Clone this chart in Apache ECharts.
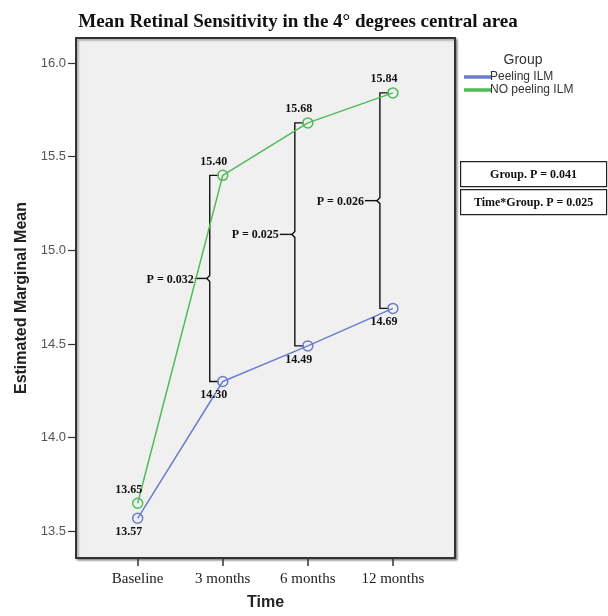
<!DOCTYPE html>
<html>
<head>
<meta charset="utf-8">
<script src="https://cdn.jsdelivr.net/npm/echarts@6/dist/echarts.min.js"></script>
<style>html,body{margin:0;padding:0;background:#fff}#c{width:608px;height:616px}</style>
</head>
<body>
<div id="c"></div>
<script>
const categories = ['Baseline', '3 months', '6 months', '12 months'];
const peeling = [13.57, 14.30, 14.49, 14.69];
const noPeeling = [13.65, 15.40, 15.68, 15.84];
const yTicks = [13.5, 14.0, 14.5, 15.0, 15.5, 16.0];
const pValues = ['P = 0.032', 'P = 0.025', 'P = 0.026'];
const bracketIdx = [1, 2, 3];
const statLines = ['Group. P = 0.041', 'Time*Group. P = 0.025'];

const BLUE = '#6b7dcf';
const GREEN = '#4fbc57';
const SERIF = '"Liberation Serif", "Times New Roman", serif';
const SANS = '"Liberation Sans", Arial, sans-serif';

const chart = echarts.init(document.getElementById('c'), null, {renderer: 'canvas'});

const bracketData = bracketIdx.map(i => [i, noPeeling[i], peeling[i]]);

function renderBracket(params, api) {
  const x = api.value(0), hi = api.value(1), lo = api.value(2);
  const pt = api.coord([x, hi]);
  const pb = api.coord([x, lo]);
  const bx = pt[0] - 13;
  const ym = (pt[1] + pb[1]) / 2;
  return {
    type: 'group',
    children: [
      {type: 'polyline', shape: {points: [[pt[0] - 4, pt[1]], [bx, pt[1]], [bx, ym - 3], [bx - 3, ym], [bx, ym + 3], [bx, pb[1]], [pb[0] - 4, pb[1]]]},
       style: {stroke: '#111', fill: null, lineWidth: 1.4}},
      {type: 'line', shape: {x1: bx - 3, y1: ym, x2: bx - 15, y2: ym}, style: {stroke: '#111', lineWidth: 1.4}},
      {type: 'text', x: bx - 16, y: ym + 1, style: {text: pValues[params.dataIndex], align: 'right', verticalAlign: 'middle',
        font: 'bold 12px ' + SERIF, fill: '#111'}}
    ]
  };
}

function boxGraphic(text, top) {
  return {
    type: 'group', left: 460, top: top,
    children: [
      {type: 'rect', shape: {x: 0, y: 0, width: 146, height: 25}, style: {fill: '#fff', stroke: '#222', lineWidth: 1.2}},
      {type: 'text', x: 73, y: 13, style: {text: text, align: 'center', verticalAlign: 'middle', font: 'bold 12px ' + SERIF, fill: '#111'}}
    ]
  };
}

const option = {
  animation: false,
  backgroundColor: '#fff',
  title: [
    {text: 'Mean Retinal Sensitivity in the 4° degrees central area', left: 293, top: 8, textAlign: 'center',
     textStyle: {fontFamily: SERIF, fontWeight: 'bold', fontSize: 19, color: '#111'}},
    {text: 'Group', left: 518, top: 48, textAlign: 'center',
     textStyle: {fontFamily: SANS, fontWeight: 'normal', fontSize: 14, color: '#333'}}
  ],
  legend: {
    orient: 'vertical', left: 459, top: 66, itemWidth: 25, itemHeight: 1.5, itemGap: 1,
    selectedMode: false,
    textStyle: {fontFamily: SANS, fontSize: 12, color: '#333', padding: [0, 0, 0, -5]},
    data: [
      {name: 'Peeling ILM', icon: 'rect', itemStyle: {color: BLUE}},
      {name: 'NO peeling ILM', icon: 'rect', itemStyle: {color: GREEN}}
    ]
  },
  grid: {left: 76, right: 153, top: 38, bottom: 57, show: true, backgroundColor: '#f0f0f0',
         borderColor: '#333', borderWidth: 2,
         shadowColor: 'rgba(0,0,0,0.35)', shadowBlur: 2, shadowOffsetX: 1.5, shadowOffsetY: 1.5},
  xAxis: {
    type: 'value', min: -0.725, max: 3.73,
    name: 'Time', nameLocation: 'middle', nameGap: 37,
    nameTextStyle: {fontFamily: SANS, fontWeight: 'bold', fontSize: 16, color: '#222'},
    axisLine: {show: false, onZero: false},
    splitLine: {show: false},
    axisTick: {show: true, customValues: [0, 1, 2, 3], length: 8, lineStyle: {color: '#333', width: 1.5}},
    axisLabel: {customValues: [0, 1, 2, 3], formatter: v => categories[Math.round(v)] || '', margin: 14,
                fontFamily: SERIF, fontSize: 15, color: '#222'}
  },
  yAxis: {
    type: 'value', min: 13.358, max: 16.133,
    name: 'Estimated Marginal Mean', nameLocation: 'middle', nameGap: 46,
    nameTextStyle: {fontFamily: SANS, fontWeight: 'bold', fontSize: 16, color: '#222'},
    axisLine: {show: false, onZero: false},
    splitLine: {show: false},
    axisTick: {show: true, customValues: yTicks, length: 8, lineStyle: {color: '#333', width: 1.2}},
    axisLabel: {customValues: yTicks, formatter: v => v.toFixed(1), margin: 10,
                fontFamily: SANS, fontSize: 13, color: '#555'}
  },
  series: [
    {
      type: 'custom', name: 'brackets', z: 1, silent: true,
      renderItem: renderBracket,
      encode: {x: 0, y: [1, 2]},
      data: bracketData
    },
    {
      type: 'line', name: 'Peeling ILM', z: 3,
      data: peeling.map((v, i) => [i, v]),
      symbol: 'circle', symbolSize: 10,
      lineStyle: {color: BLUE, width: 1.5},
      itemStyle: {color: 'rgba(0,0,0,0)', borderColor: BLUE, borderWidth: 1.5},
      label: {show: true, position: 'bottom', distance: 2, offset: [-9, 0], formatter: p => p.value[1].toFixed(2),
              fontFamily: SERIF, fontWeight: 'bold', fontSize: 12, color: '#111'}
    },
    {
      type: 'line', name: 'NO peeling ILM', z: 3,
      data: noPeeling.map((v, i) => [i, v]),
      symbol: 'circle', symbolSize: 10,
      lineStyle: {color: GREEN, width: 1.5},
      itemStyle: {color: 'rgba(0,0,0,0)', borderColor: GREEN, borderWidth: 1.5},
      label: {show: true, position: 'top', distance: 2, offset: [-9, 0], formatter: p => p.value[1].toFixed(2),
              fontFamily: SERIF, fontWeight: 'bold', fontSize: 12, color: '#111'}
    }
  ],
  graphic: [boxGraphic(statLines[0], 161), boxGraphic(statLines[1], 189)]
};
chart.setOption(option);
</script>
</body>
</html>
